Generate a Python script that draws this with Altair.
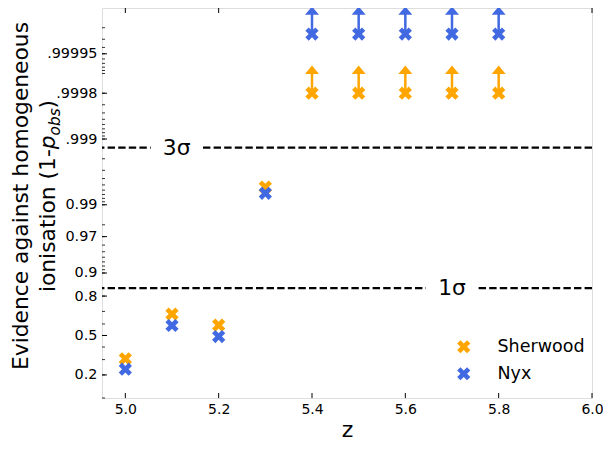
import math
import altair as alt
import pandas as pd

# ---------------- data ----------------
z_vals = [5.0, 5.1, 5.2, 5.3, 5.4, 5.5, 5.6, 5.7, 5.8]
sherwood_p = [0.306, 0.680, 0.590, 0.9946, 0.9998, 0.9998, 0.9998, 0.9998, 0.9998]
nyx_p = [0.234, 0.587, 0.491, 0.9933, 0.999975, 0.999975, 0.999975, 0.999975, 0.999975]
lower_limit = [False, False, False, False, True, True, True, True, True]
models = ["Sherwood", "Nyx"]
colors = ["#FFA500", "#4169E1"]

sigma_names = ["1σ", "3σ"]
sigma_p = [0.841345, 0.998650]
sigma_label_z = [5.70, 5.11]

y_major = [0.2, 0.5, 0.8, 0.9, 0.97, 0.99, 0.999, 0.9998, 0.99995]
y_major_labels = ["0.2", "0.5", "0.8", "0.9", "0.97", "0.99", ".999", ".9998", ".99995"]
y_minor = ([0.1, 0.2, 0.3, 0.4, 0.5, 0.6, 0.7, 0.8, 0.9]
           + [0.91, 0.92, 0.93, 0.94, 0.95, 0.96, 0.97, 0.98, 0.99]
           + [0.991, 0.992, 0.993, 0.994, 0.995, 0.996, 0.997, 0.998, 0.999]
           + [0.9991, 0.9992, 0.9993, 0.9994, 0.9995, 0.9996, 0.9997, 0.9998, 0.9999]
           + [0.99991, 0.99992, 0.99993, 0.99994, 0.99995, 0.99996, 0.99997, 0.99998])
x_major = [5.0, 5.2, 5.4, 5.6, 5.8, 6.0]
p_limits = [0.1, 0.99999]
z_limits = [4.95, 6.0]

FONT = "DejaVu Sans"
W, H = 490, 390


def logit(p):
    return math.log(p / (1.0 - p))


# ---------------- tables ----------------
rows = []
for m, c, ps in zip(models, colors, [sherwood_p, nyx_p]):
    for z, p, lim in zip(z_vals, ps, lower_limit):
        rows.append({"z": z, "p": p, "yl": logit(p), "model": m, "col": c, "lim": lim})
pts = pd.DataFrame(rows)
lims = pts[pts["lim"]]

sig = pd.DataFrame({"name": sigma_names, "yl": [logit(p) for p in sigma_p], "z": sigma_label_z})
ymaj = pd.DataFrame({"yl": [logit(p) for p in y_major]})
ymin = pd.DataFrame({"yl": [logit(p) for p in y_minor]})
xmaj = pd.DataFrame({"z": x_major})
one = pd.DataFrame({"k": [0]})

label_expr = " : ".join(
    f"abs(datum.value - ({logit(v):.6f})) < 0.001 ? '{lab}'" for v, lab in zip(y_major, y_major_labels)
) + " : ''"

yscale = alt.Scale(domain=[logit(p_limits[0]), logit(p_limits[1])], nice=False, zero=False)
xscale = alt.Scale(domain=z_limits, nice=False, zero=False)

yaxis = alt.Axis(values=[logit(v) for v in y_major], labelExpr=label_expr, ticks=False, tickSize=0,
                 domain=False, grid=False, labelFontSize=14.4, labelPadding=5, title=None,
                 labelOverlap=False, labelColor="black", labelFont=FONT)
xaxis = alt.Axis(values=x_major, format=".1f", ticks=False, tickSize=0, domain=False, grid=False,
                 labelFontSize=14, labelPadding=4, title="z", titleFontSize=22, titleFontWeight="normal",
                 titlePadding=3, labelFlush=False, labelOverlap=False, labelColor="black",
                 titleColor="black", labelFont=FONT, titleFont=FONT)

XPATH = "M0.5,-1L1,-0.5L0.5,0L1,0.5L0.5,1L0,0.5L-0.5,1L-1,0.5L-0.5,0L-1,-0.5L-0.5,-1L0,-0.5Z"
HEADPATH = "M0,-0.6L1,0.6L-1,0.6Z"
BOXPATH = "M-1,-0.5L1,-0.5L1,0.5L-1,0.5Z"


def Y():
    return alt.Y("yl:Q", scale=yscale, axis=yaxis)


def X():
    return alt.X("z:Q", scale=xscale, axis=xaxis)


# ---------------- layers ----------------
points = alt.Chart(pts).mark_point(shape=XPATH, filled=True, size=175, opacity=1, strokeWidth=0).encode(
    x=X(), y=Y(),
    color=alt.Color("model:N", scale=alt.Scale(domain=models, range=colors),
                    legend=alt.Legend(title=None, orient="none", legendX=353, legendY=330,
                                      symbolType=XPATH, symbolSize=175, labelFontSize=17.5,
                                      labelFont=FONT, labelColor="black", labelOffset=25,
                                      rowPadding=8, padding=0, symbolStrokeWidth=0)),
)

shaft = alt.Chart(lims).mark_rule(strokeWidth=2.5, y2Offset=-23).encode(
    x=X(), y=Y(), y2="yl:Q", color=alt.Color("col:N", scale=None))
head = alt.Chart(lims).mark_point(shape=HEADPATH, filled=True, size=196, yOffset=-23.4, opacity=1,
                                   strokeWidth=0).encode(
    x=X(), y=Y(), color=alt.Color("col:N", scale=None))

sig_rule = alt.Chart(sig).mark_rule(color="black", strokeWidth=2.2, strokeDash=[7.4, 3.2]).encode(y=Y())
sig_box = alt.Chart(sig).mark_point(shape=BOXPATH, filled=True, size=2704, color="white", opacity=1,
                                     strokeWidth=0).encode(x=X(), y=Y())
sig_text = alt.Chart(sig).mark_text(font=FONT, fontSize=21.8, color="black", align="center",
                                    baseline="middle").encode(x=X(), y=Y(), text="name:N")

ytick_minor = alt.Chart(ymin).mark_rule(color="black", strokeWidth=0.8).encode(
    y=Y(), x=alt.value(0), x2=alt.value(3))
ytick_major = alt.Chart(ymaj).mark_rule(color="black", strokeWidth=1).encode(
    y=Y(), x=alt.value(0), x2=alt.value(5))
xtick_bot = alt.Chart(xmaj).mark_rule(color="black", strokeWidth=1).encode(
    x=X(), y=alt.value(H), y2=alt.value(H - 5))
xtick_top = alt.Chart(xmaj).mark_rule(color="black", strokeWidth=1).encode(
    x=X(), y=alt.value(0), y2=alt.value(5))

# y title (two lines, with subscript)
TFS = 21.8
CY = 188
L2 = 142.9 + 13.8 + 27.0 + 8.5
start = -L2 / 2


def ttext(txt, x, dx=0, dy=0, size=TFS, style="normal", align="left"):
    return alt.Chart(one).mark_text(text=txt, font=FONT, fontSize=size, fontStyle=style, angle=270,
                                    align=align, baseline="alphabetic", dx=dx, dy=dy,
                                    color="black").encode(x=alt.value(x), y=alt.value(CY))


title1 = ttext("Evidence against homogeneous", -74, align="center")
t2a = ttext("ionisation (1-", -47, dx=start)
t2b = ttext("p", -47, dx=start + 142.9, style="italic")
t2c = ttext("obs", -47, dx=start + 142.9 + 13.8, dy=4.5, size=15.3, style="italic")
t2d = ttext(")", -47, dx=start + 142.9 + 13.8 + 27.0)

chart = alt.layer(
    sig_rule, sig_box, sig_text,
    ytick_minor, ytick_major, xtick_bot, xtick_top,
    points, shaft, head,
    title1, t2a, t2b, t2c, t2d,
).properties(
    width=W, height=H,
    autosize=alt.AutoSizeParams(type="none"),
    padding={"left": 94, "top": 0, "right": 11, "bottom": 42},
).configure_view(
    stroke="black", strokeWidth=1
).configure(
    font=FONT
)

chart.save("out.html", embed_options={"renderer": "svg", "actions": False})
